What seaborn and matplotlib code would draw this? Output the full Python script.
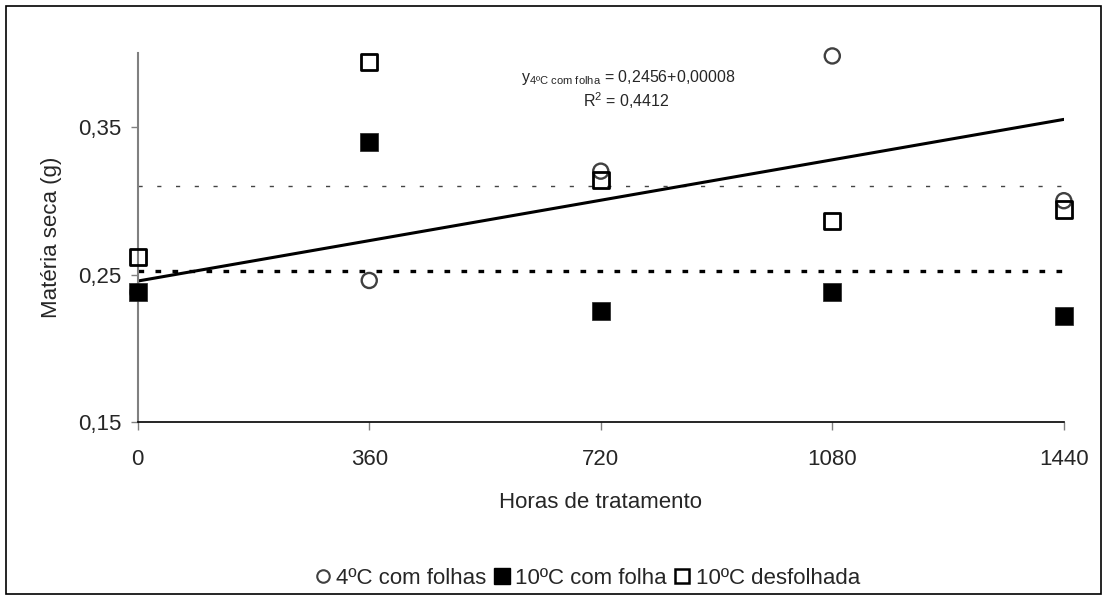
import matplotlib
matplotlib.use("Agg")
import matplotlib.pyplot as plt
from matplotlib.lines import Line2D
from matplotlib.patches import Rectangle
import seaborn as sns
import numpy as np

# ---- data ----
hours = [0, 360, 720, 1080, 1440]
c4_com_folhas = [0.238, 0.246, 0.320, 0.398, 0.300]
c10_com_folha = [0.238, 0.340, 0.225, 0.238, 0.222]
c10_desfolhada = [0.262, 0.394, 0.314, 0.286, 0.294]
trend_intercept = 0.2456
trend_slope = 0.000076
x_ticks = [0, 360, 720, 1080, 1440]
y_ticks = [0.15, 0.25, 0.35]
y_tick_labels = ["0,15", "0,25", "0,35"]
series_names = ["4ºC com folhas", "10ºC com folha", "10ºC desfolhada"]

sns.set_style("white")
plt.rcParams["font.family"] = ["Liberation Sans", "DejaVu Sans"]
plt.rcParams["mathtext.fontset"] = "custom"
plt.rcParams["mathtext.rm"] = "Liberation Sans"
plt.rcParams["mathtext.it"] = "Liberation Sans"
plt.rcParams["mathtext.bf"] = "Liberation Sans"

fig = plt.figure(figsize=(11.07, 6.0), dpi=100)
ax = fig.add_axes([0.1244, 0.2962, 0.961 - 0.1244, 0.9117 - 0.2962])

# mean lines
ax.hlines(np.mean(c10_desfolhada), 0, 1440, colors="#444444", linestyles=(0, (3, 10.5)), linewidth=1.0, zorder=1)
ax.hlines(np.mean(c10_com_folha), 0, 1440, colors="black", linestyles=(0, (1.7, 3.4)), linewidth=2.4, zorder=1)

# trend line
tx = np.array([0, 1440])
sns.lineplot(x=tx, y=trend_intercept + trend_slope * tx, color="black", linewidth=2.2, ax=ax, zorder=2)

sns.scatterplot(x=hours, y=c4_com_folhas, marker="o", s=118, facecolor="none",
                edgecolor="#404040", linewidth=1.7, ax=ax, clip_on=False, zorder=3)
sns.scatterplot(x=hours, y=c10_com_folha, marker="s", s=155, color="black",
                edgecolor="#222222", linewidth=0.5, ax=ax, clip_on=False, zorder=4)
sns.scatterplot(x=hours, y=c10_desfolhada, marker="s", s=135, facecolor="none",
                edgecolor="black", linewidth=2.0, ax=ax, clip_on=False, zorder=5)

ax.set_xlim(0, 1440)
ax.set_ylim(0.15, 0.40)
ax.set_xticks(x_ticks)
ax.set_xticklabels([str(v) for v in x_ticks])
ax.set_yticks(y_ticks)
ax.set_yticklabels(y_tick_labels)

for s in ["top", "right"]:
    ax.spines[s].set_visible(False)
ax.spines["left"].set_color("#808080")
ax.spines["left"].set_linewidth(1.5)
ax.spines["bottom"].set_color("black")
ax.spines["bottom"].set_linewidth(1.2)
ax.tick_params(axis="y", direction="out", length=5, width=1.0, color="#808080", pad=7, labelsize=16, left=True)
ax.tick_params(axis="x", direction="out", length=6, width=1.0, color="#808080", pad=13, labelsize=16, bottom=True)

ax.set_xlabel("Horas de tratamento", fontsize=16, labelpad=16)
ax.set_ylabel("Matéria seca (g)", fontsize=16, labelpad=11)

# equation text
ax.text(596, 0.3803, r"$\mathregular{y_{4ºC\ com\ folha}}$ = 0,2456+0,00008", fontsize=11.5,
        ha="left", va="baseline")
ax.text(759, 0.3633, r"R$\mathregular{^2}$ = 0,4412", fontsize=11.5, ha="center", va="baseline")

# legend
handles = [
    Line2D([], [], marker="o", linestyle="none", markersize=9, markerfacecolor="none",
           markeredgecolor="#404040", markeredgewidth=1.5),
    Line2D([], [], marker="s", linestyle="none", markersize=11, markerfacecolor="black",
           markeredgecolor="black"),
    Line2D([], [], marker="s", linestyle="none", markersize=10, markerfacecolor="none",
           markeredgecolor="black", markeredgewidth=1.8),
]
fig.legend(handles, series_names, loc="center", bbox_to_anchor=(588 / 1107, 1 - 578 / 600),
           ncol=3, frameon=False, fontsize=16, handlelength=0.6, handletextpad=0.3,
           columnspacing=0.4)

# figure border
fig.patches.append(Rectangle((6 / 1107, 6 / 600), 1 - 12 / 1107, 1 - 12 / 600,
                             transform=fig.transFigure, fill=False, edgecolor="black",
                             linewidth=1.2, zorder=0))

fig.savefig("out.png", dpi=100)
